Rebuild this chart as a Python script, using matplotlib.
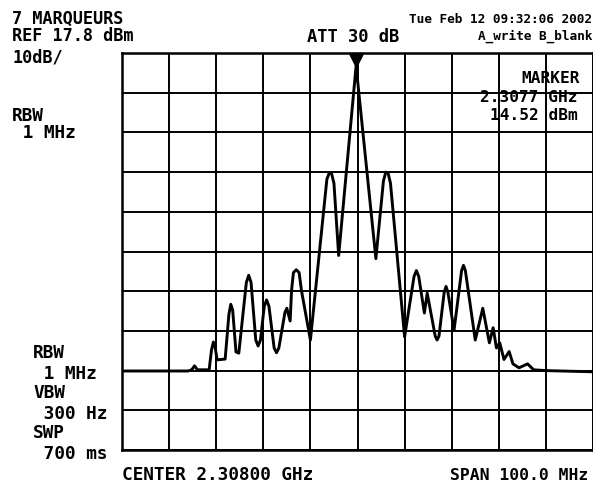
import numpy as np
import matplotlib
matplotlib.use('Agg')
import matplotlib.pyplot as plt
import matplotlib.transforms as mtransforms

# SPECTRUM TRACE (frequency in MHz, level in dBm)
freq_mhz = [2258.0, 2265.0, 2272.0, 2272.8, 2273.4, 2274.0, 2276.5, 2277.0, 2277.4, 2277.8,
            2278.2, 2279.9, 2280.7, 2281.1, 2281.5, 2282.2, 2282.8, 2284.4, 2284.9, 2285.4,
            2286.4, 2286.9, 2287.4, 2288.2, 2288.7, 2289.2, 2290.3, 2290.8, 2291.3, 2292.6,
            2293.0, 2293.7, 2294.0, 2294.4, 2295.0, 2295.6, 2296.1, 2298.0, 2301.5, 2302.0,
            2302.5, 2303.0, 2304.0, 2307.7, 2311.9, 2313.5, 2314.0, 2314.5, 2315.0, 2318.0,
            2320.0, 2320.5, 2321.0, 2322.2, 2322.8, 2324.5, 2324.9, 2325.3, 2326.4, 2326.8,
            2327.2, 2328.5, 2330.1, 2330.5, 2330.9, 2333.0, 2334.6, 2336.0, 2336.8, 2337.5,
            2338.2, 2339.1, 2340.2, 2341.0, 2342.3, 2344.1, 2345.4, 2348.0, 2358.0]
level_dbm = [-62.3, -62.3, -62.3, -62.0, -61.0, -62.0, -62.0, -57.0, -55.0, -56.5,
             -59.5, -59.3, -48.0, -45.5, -47.0, -57.5, -57.8, -40.0, -38.2, -40.0,
             -54.5, -56.0, -54.5, -46.0, -44.4, -46.0, -56.5, -57.7, -56.5, -47.5,
             -46.5, -49.7, -42.0, -37.5, -36.8, -37.5, -42.0, -54.5, -14.0, -12.4,
             -12.6, -15.0, -33.2, 14.52, -34.0, -14.5, -12.2, -12.5, -15.0, -53.7,
             -38.5, -37.0, -38.5, -47.7, -42.7, -53.5, -54.5, -53.5, -42.5, -41.0,
             -42.5, -52.0, -37.0, -35.7, -37.0, -54.5, -46.5, -55.2, -51.4, -56.5,
             -55.2, -59.4, -57.4, -60.5, -61.5, -60.5, -62.0, -62.2, -62.5]

# ANALYZER SETTINGS
center_mhz = 2308.0
span_mhz = 100.0
ref_dbm = 17.8
db_per_div = 10.0
marker_mhz = 2307.7
marker_dbm = 14.52

W, H = 593, 487
fig = plt.figure(figsize=(W / 100, H / 100), dpi=100)
ax = fig.add_axes([122 / W, 1 - 450 / H, 471 / W, 397 / H])

ax.plot(freq_mhz, level_dbm, color='black', lw=2.1, solid_joinstyle='round')

# marker triangle sitting on top of the peak
trans = mtransforms.offset_copy(ax.transData, fig=fig, x=0, y=6, units='dots')
ax.plot([marker_mhz], [marker_dbm], marker='v', ms=10, color='black', transform=trans, clip_on=False)

ax.set_xlim(center_mhz - span_mhz / 2, center_mhz + span_mhz / 2)
ax.set_ylim(ref_dbm - 10 * db_per_div, ref_dbm)
ax.set_xticks(np.linspace(center_mhz - span_mhz / 2, center_mhz + span_mhz / 2, 11))
ax.set_yticks(np.linspace(ref_dbm - 10 * db_per_div, ref_dbm, 11))
ax.tick_params(length=0, labelbottom=False, labelleft=False)
ax.grid(True, color='black', lw=1.4)
for s in ax.spines.values():
    s.set_linewidth(1.8)

mono = 'DejaVu Sans Mono'


def label(x, y, s, size=12.8, ha='left', ls=1.2):
    # x, y in image pixels, y is the baseline of the last line
    fig.text(x / W, 1 - y / H, s, fontsize=size, ha=ha, va='baseline',
             family=mono, weight='bold', color='black', linespacing=ls)


label(12, 41, '7 MARQUEURS\nREF 17.8 dBm', size=12.2, ls=0.95)
label(12, 62, '10dB/', size=12.2)
label(12, 121, 'RBW')
label(12, 138, ' 1 MHz')

label(592, 23, 'Tue Feb 12 09:32:06 2002', size=9.2, ha='right')
label(592, 40, 'A_write B_blank', size=9.2, ha='right')
label(307, 42, 'ATT 30 dB', size=12.3)

label(580, 83, 'MARKER', size=11.6, ha='right')
label(578, 102, '2.3077 GHz', size=11.6, ha='right')
label(578, 120, '14.52 dBm', size=11.6, ha='right')

label(33, 358, 'RBW')
label(33, 379, ' 1 MHz')
label(33, 398, 'VBW')
label(33, 419, ' 300 Hz')
label(33, 438, 'SWP')
label(33, 459, ' 700 ms')

label(122, 480, 'CENTER 2.30800 GHz')
label(588, 480, 'SPAN 100.0 MHz', size=11.8, ha='right')

fig.savefig('out.png', dpi=100)
